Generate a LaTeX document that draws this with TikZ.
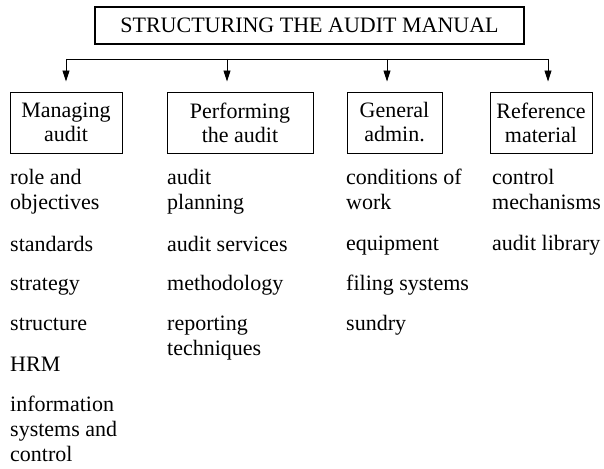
\documentclass[tikz,border=0pt]{standalone}
\usepackage{fontspec}
\setmainfont{Liberation Serif}
\usetikzlibrary{arrows.meta, positioning}

\begin{document}
\begin{tikzpicture}[
  x=1pt, y=-1pt,
  font=\fontsize{22}{24}\selectfont,
  title/.style={draw, line width=2.4pt, minimum width=429pt, minimum height=37pt, inner sep=0pt},
  head/.style={draw, line width=0.9pt, align=center, minimum height=61pt, inner sep=0pt},
  item/.style={anchor=base west, inner sep=0pt, align=left, font=\fontsize{22}{25}\selectfont},
  arr/.style={-{Triangle[length=11pt, width=7pt]}, line width=0.9pt, shorten >=10pt}
]
\useasboundingbox (0,0) rectangle (604,468);

\node[title] (top) at (309.5,25.5) {STRUCTURING THE AUDIT MANUAL};

\node[head, minimum width=112pt] (mng) at (66,122.5) {Managing\\audit};
\node[head, minimum width=146pt] (perf) at (240,122.5) {Performing\\the audit};
\node[head, minimum width=95pt] (gen) at (394.5,122.5) {General\\admin.};
\node[head, minimum width=102pt] (ref) at (541,122.5) {Reference\\material};

\coordinate (b1) at (66,59);
\coordinate (b2) at (227,59);
\coordinate (b3) at (387,59);
\coordinate (b4) at (548,59);

\draw[line width=0.9pt] (b1) -- (b4);
\draw[arr] (b1) -- (b1 |- mng.north);
\draw[arr] (b2) -- (b2 |- perf.north);
\draw[arr] (b3) -- (b3 |- gen.north);
\draw[arr] (b4) -- (b4 |- ref.north);

% managing audit (base = last line)
\node[item] (m1) at (10,209) {role and\\objectives};
\node[item] (m2) at (10,251) {standards};
\node[item] (m3) at (10,290) {strategy};
\node[item] (m4) at (10,330) {structure};
\node[item] (m5) at (10,371) {HRM};
\node[item] (m6) at (10,461) {information\\systems and\\control};

% performing the audit
\node[item] (p1) at (167,209) {audit\\planning};
\node[item] (p2) at (167,251) {audit services};
\node[item] (p3) at (167,290) {methodology};
\node[item] (p4) at (167,355) {reporting\\techniques};

% general admin
\node[item] (g1) at (346,209) {conditions of\\work};
\node[item] (g2) at (346,250) {equipment};
\node[item] (g3) at (346,290) {filing systems};
\node[item] (g4) at (346,330) {sundry};

% reference material
\node[item] (r1) at (492,209) {control\\mechanisms};
\node[item] (r2) at (492,250) {audit library};
\end{tikzpicture}
\end{document}
